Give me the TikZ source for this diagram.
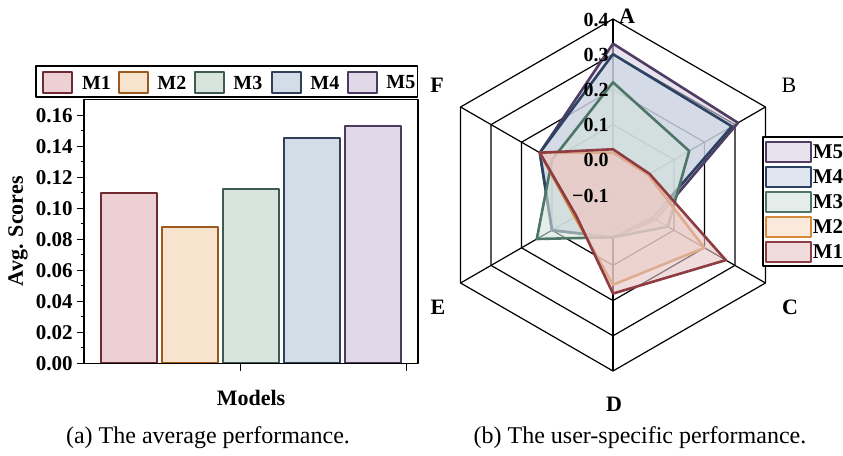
\documentclass[tikz,border=0pt]{standalone}
\usepackage{fontspec}
\setmainfont{Liberation Serif}

\definecolor{barfillA}{HTML}{EDD0D3}
\definecolor{barfillB}{HTML}{F8E3CF}
\definecolor{barfillC}{HTML}{D8E5DF}
\definecolor{barfillD}{HTML}{D3DDE8}
\definecolor{barfillE}{HTML}{E1D9E7}
\definecolor{barlineA}{HTML}{6F2B31}
\definecolor{barlineB}{HTML}{9B5B1F}
\definecolor{barlineC}{HTML}{3F5B4F}
\definecolor{barlineD}{HTML}{2F4058}
\definecolor{barlineE}{HTML}{4B3B5E}
\definecolor{radlineA}{HTML}{8E3B42}
\definecolor{radlineB}{HTML}{D4893C}
\definecolor{radlineC}{HTML}{4E7666}
\definecolor{radlineD}{HTML}{2C4262}
\definecolor{radlineE}{HTML}{4F3D64}
\definecolor{radfillA}{HTML}{E6C4C7}
\definecolor{radfillB}{HTML}{F6DDC6}
\definecolor{radfillC}{HTML}{D3E2DB}
\definecolor{radfillD}{HTML}{C9D5E4}
\definecolor{radfillE}{HTML}{D9CFE3}

% 雷达图多边形：六个轴上的值（-0.1 在中心，0.4 在外圈）
\newcommand{\radarshape}[7]{%
  \draw[#1] (270:{(#2+0.1)*352}) -- (330:{(#3+0.1)*352}) -- (30:{(#4+0.1)*352})
    -- (90:{(#5+0.1)*352}) -- (150:{(#6+0.1)*352}) -- (210:{(#7+0.1)*352}) -- cycle;}

\begin{document}
\begin{tikzpicture}[x=0.5pt,y=-0.5pt,line join=round,every node/.style={inner sep=0pt},
  ticklabel/.style={anchor=east,font=\bfseries\fontsize{10.5}{12}\selectfont},
  legendlabel/.style={anchor=west,font=\bfseries\fontsize{10}{12}\selectfont},
  axislabel/.style={font=\bfseries\fontsize{11}{13}\selectfont},
  caption/.style={font=\fontsize{12}{14}\selectfont},
  bar/.style={line width=1pt},
  gridline/.style={line width=0.6pt,black},
  radar/.style={line width=1.3pt,fill opacity=0.6}]
  \clip (0,0) rectangle (843,456);

  % (a) 柱状图：坐标框与刻度
  \draw[line width=0.8pt] (84,99.3) rectangle (418,363.3);
  \draw[line width=0.7pt] (76.5,363.3) -- (84,363.3);
  \draw[line width=0.7pt] (76.5,332.3) -- (84,332.3);
  \draw[line width=0.7pt] (76.5,301.3) -- (84,301.3);
  \draw[line width=0.7pt] (76.5,270.3) -- (84,270.3);
  \draw[line width=0.7pt] (76.5,239.3) -- (84,239.3);
  \draw[line width=0.7pt] (76.5,208.3) -- (84,208.3);
  \draw[line width=0.7pt] (76.5,177.3) -- (84,177.3);
  \draw[line width=0.7pt] (76.5,146.3) -- (84,146.3);
  \draw[line width=0.7pt] (76.5,115.3) -- (84,115.3);
  \draw[line width=0.6pt] (80.5,347.8) -- (84,347.8);
  \draw[line width=0.6pt] (80.5,316.8) -- (84,316.8);
  \draw[line width=0.6pt] (80.5,285.8) -- (84,285.8);
  \draw[line width=0.6pt] (80.5,254.8) -- (84,254.8);
  \draw[line width=0.6pt] (80.5,223.8) -- (84,223.8);
  \draw[line width=0.6pt] (80.5,192.8) -- (84,192.8);
  \draw[line width=0.6pt] (80.5,161.8) -- (84,161.8);
  \draw[line width=0.6pt] (80.5,130.8) -- (84,130.8);
  \draw[line width=0.7pt] (240.7,363.3) -- (240.7,370.5);
  \draw[line width=0.7pt] (406.7,363.3) -- (406.7,370.5);
  \node[ticklabel] (y0) at (73,363.3) {0.00};
  \node[ticklabel] (y2) at (73,332.3) {0.02};
  \node[ticklabel] (y4) at (73,301.3) {0.04};
  \node[ticklabel] (y6) at (73,270.3) {0.06};
  \node[ticklabel] (y8) at (73,239.3) {0.08};
  \node[ticklabel] (y10) at (73,208.3) {0.10};
  \node[ticklabel] (y12) at (73,177.3) {0.12};
  \node[ticklabel] (y14) at (73,146.3) {0.14};
  \node[ticklabel] (y16) at (73,115.3) {0.16};
  \node[axislabel,rotate=90] (ylab) at (18,231.3) {Avg. Scores};
  \node[axislabel] (xlab) at (251,398) {Models};

  % 柱子
  \draw[bar,draw=barlineA,fill=barfillA] (100.7,363.3) rectangle (157,193.3);
  \draw[bar,draw=barlineB,fill=barfillB] (162,363.3) rectangle (218.3,226.7);
  \draw[bar,draw=barlineC,fill=barfillC] (223.3,363.3) rectangle (278.7,189);
  \draw[bar,draw=barlineD,fill=barfillD] (284,363.3) rectangle (340,138);
  \draw[bar,draw=barlineE,fill=barfillE] (344.7,363.3) rectangle (400.7,126);
  \draw[line width=0.8pt] (84,363.3) -- (418,363.3);

  % 柱状图图例
  \draw[line width=0.8pt,fill=white] (36,66) rectangle (417.3,96.7);
  \draw[line width=1pt,draw=barlineA,fill=barfillA] (43.3,71.7) rectangle (71.7,93.3);
  \draw[line width=1pt,draw=barlineB,fill=barfillB] (119.3,71.7) rectangle (148.3,93.3);
  \draw[line width=1pt,draw=barlineC,fill=barfillC] (195,71.7) rectangle (224,93.3);
  \draw[line width=1pt,draw=barlineD,fill=barfillD] (271.7,71.7) rectangle (300.7,93.3);
  \draw[line width=1pt,draw=barlineE,fill=barfillE] (347.7,71.7) rectangle (376.7,93.3);
  \node[legendlabel] (legA) at (81.7,82.5) {M1};
  \node[legendlabel] (legB) at (157,82.5) {M2};
  \node[legendlabel] (legC) at (233,82.5) {M3};
  \node[legendlabel] (legD) at (310,82.5) {M4};
  \node[legendlabel] (legE) at (386,82.5) {M5};

  % (b) 雷达图
  \begin{scope}[shift={(613,195)}]
    \draw[gridline] (270:35.2) -- (330:35.2) -- (30:35.2) -- (90:35.2) -- (150:35.2) -- (210:35.2) -- cycle;
    \draw[gridline] (270:70.4) -- (330:70.4) -- (30:70.4) -- (90:70.4) -- (150:70.4) -- (210:70.4) -- cycle;
    \draw[gridline] (270:105.6) -- (330:105.6) -- (30:105.6) -- (90:105.6) -- (150:105.6) -- (210:105.6) -- cycle;
    \draw[gridline] (270:140.8) -- (330:140.8) -- (30:140.8) -- (90:140.8) -- (150:140.8) -- (210:140.8) -- cycle;
    \draw[gridline] (270:176) -- (330:176) -- (30:176) -- (90:176) -- (150:176) -- (210:176) -- cycle;
    \draw[gridline] (270:176) -- (90:176);
    \draw[gridline] (330:176) -- (150:176);
    \draw[gridline] (30:176) -- (210:176);
    \radarshape{radar,draw=radlineE,fill=radfillE}{0.33}{0.31}{0.04}{0.02}{0.10}{0.14}
    \radarshape{radar,draw=radlineD,fill=radfillD}{0.30}{0.29}{0.03}{0.02}{0.10}{0.14}
    \radarshape{radar,draw=radlineC,fill=radfillC}{0.22}{0.15}{0.08}{0.02}{0.15}{0.10}
    \radarshape{radar,draw=radlineB,fill=radfillB}{0.02}{0.015}{0.20}{0.155}{0.025}{0.14}
    \radarshape{radar,draw=radlineA,fill=radfillA}{0.03}{0.02}{0.27}{0.18}{0.02}{0.14}
  \end{scope}
  \node[ticklabel,font=\bfseries\fontsize{10}{12}\selectfont] (r4) at (609,20) {0.4};
  \node[ticklabel,font=\bfseries\fontsize{10}{12}\selectfont] (r3) at (609,55) {0.3};
  \node[ticklabel,font=\bfseries\fontsize{10}{12}\selectfont] (r2) at (609,89.5) {0.2};
  \node[ticklabel,font=\bfseries\fontsize{10}{12}\selectfont] (r1) at (609,124.5) {0.1};
  \node[ticklabel,font=\bfseries\fontsize{10}{12}\selectfont] (r0) at (609,160) {0.0};
  \node[ticklabel,font=\bfseries\fontsize{10}{12}\selectfont] (rm) at (609,196) {−0.1};
  \node[axislabel] (axA) at (627,16) {A};
  \node[font=\fontsize{11}{13}\selectfont] (axB) at (789,85) {B};
  \node[axislabel] (axC) at (790,307) {C};
  \node[axislabel] (axD) at (614,404) {D};
  \node[axislabel] (axE) at (438,307) {E};
  \node[axislabel] (axF) at (437,85) {F};

  % 雷达图图例
  \draw[line width=0.8pt,fill=white] (763,136.7) rectangle (860,266);
  \draw[line width=1.2pt,draw=radlineE,fill=radfillE,fill opacity=0.6] (766,141.7) rectangle (810.7,161.7);
  \draw[line width=1.2pt,draw=radlineD,fill=radfillD,fill opacity=0.6] (766,166.7) rectangle (810.7,186.7);
  \draw[line width=1.2pt,draw=radlineC,fill=radfillC,fill opacity=0.6] (766,191.7) rectangle (810.7,211.7);
  \draw[line width=1.2pt,draw=radlineB,fill=radfillB,fill opacity=0.6] (766,216.7) rectangle (810.7,236.7);
  \draw[line width=1.2pt,draw=radlineA,fill=radfillA,fill opacity=0.6] (766,241.7) rectangle (810.7,261.7);
  \node[legendlabel,font=\bfseries\fontsize{10.5}{13}\selectfont] (rlegE) at (812.5,151.7) {M5};
  \node[legendlabel,font=\bfseries\fontsize{10.5}{13}\selectfont] (rlegD) at (812.5,176.7) {M4};
  \node[legendlabel,font=\bfseries\fontsize{10.5}{13}\selectfont] (rlegC) at (812.5,201.7) {M3};
  \node[legendlabel,font=\bfseries\fontsize{10.5}{13}\selectfont] (rlegB) at (812.5,226.7) {M2};
  \node[legendlabel,font=\bfseries\fontsize{10.5}{13}\selectfont] (rlegA) at (812.5,251.7) {M1};

  % 子图标题
  \node[caption] (capA) at (208,438) {(a) The average performance.};
  \node[caption] (capB) at (640,438) {(b) The user-specific performance.};
\end{tikzpicture}
\end{document}
